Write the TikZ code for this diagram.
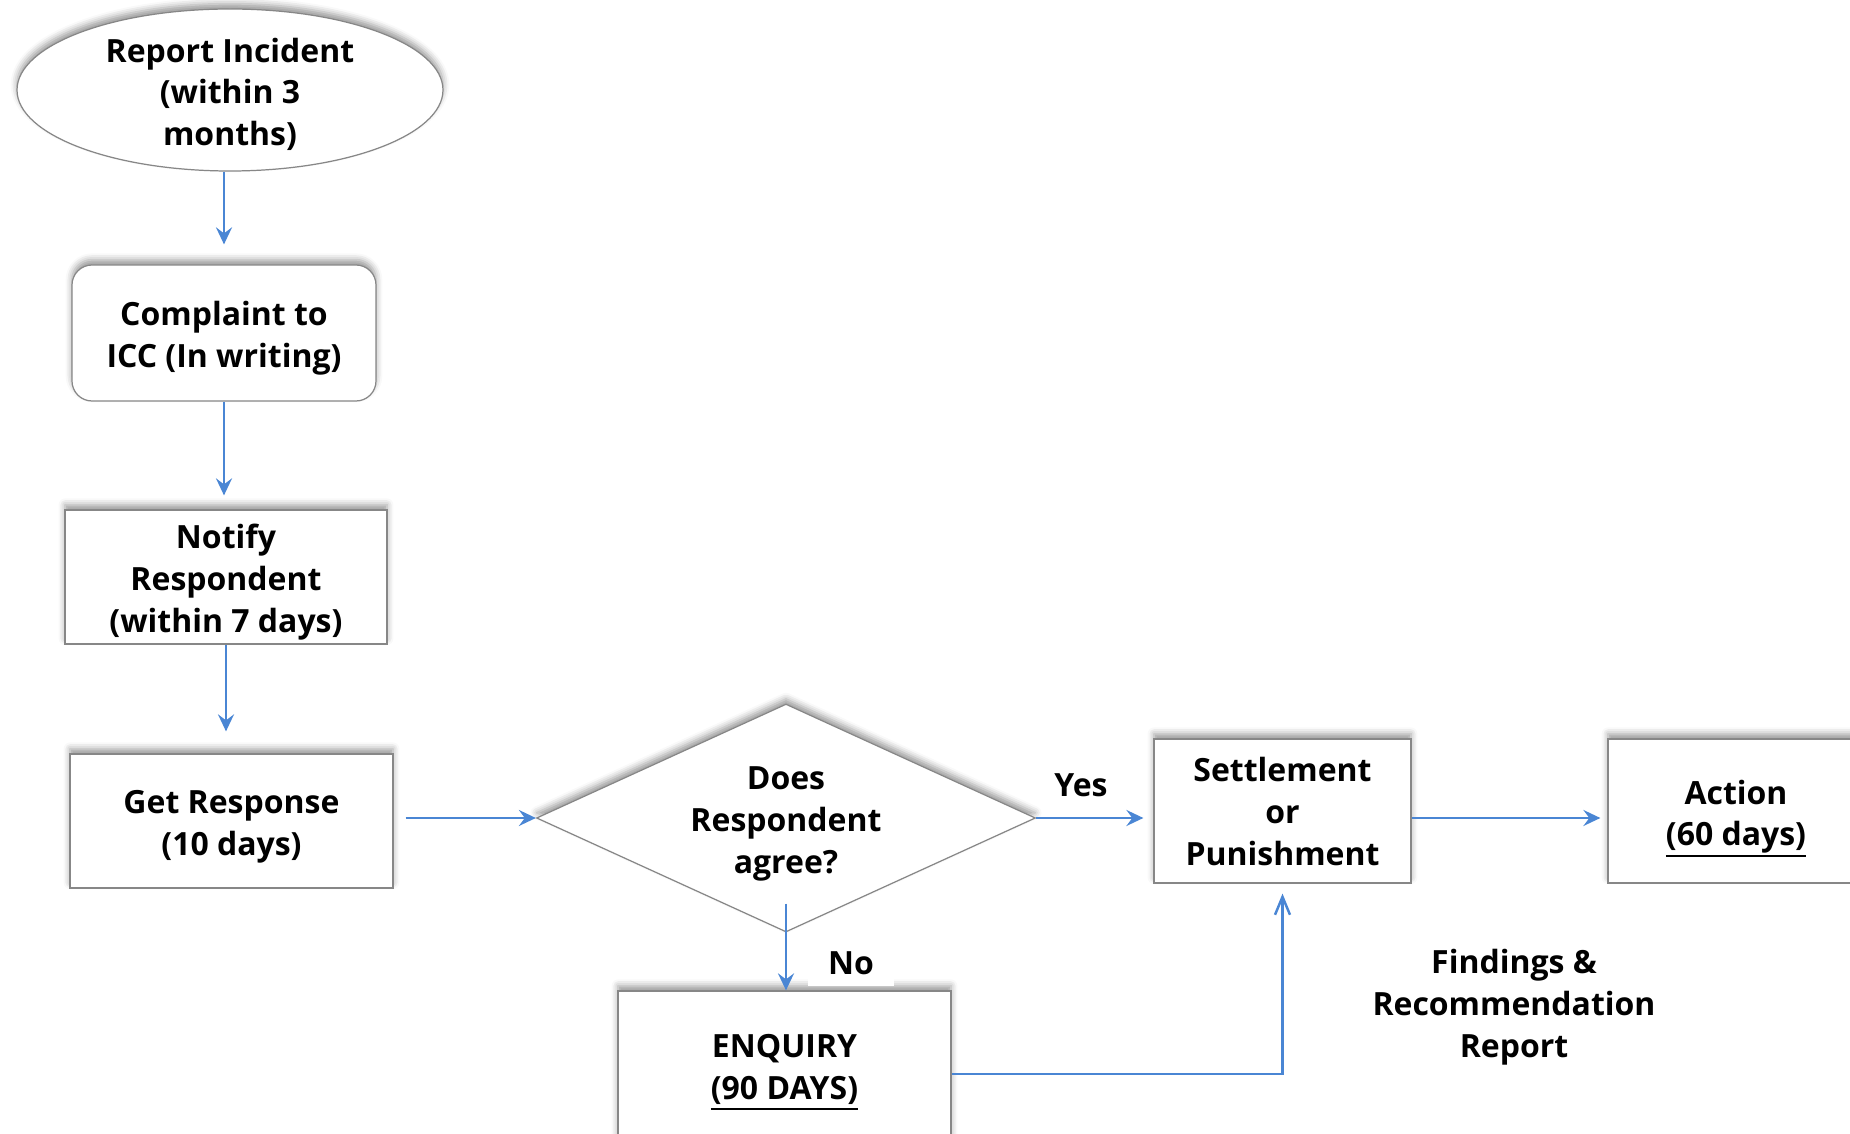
\documentclass[tikz,border=0pt]{standalone}
\usepackage{fontspec}
\setmainfont{Open Sans}
\usetikzlibrary{shapes.geometric,arrows.meta,shadows.blur}
\definecolor{flowblue}{RGB}{74,134,212}
\definecolor{edgegray}{RGB}{135,135,135}
\newcommand{\ml}[2][-1.4pt]{\raisebox{#1}[\height][\depth]{\begin{tabular}{@{}c@{}}#2\end{tabular}}}
\newcommand{\thickul}[1]{\setbox0\hbox{#1}\rlap{\rule[-3.1pt]{\wd0}{0.65pt}}\box0}
\begin{document}
\begin{tikzpicture}[x=0.1mm,y=-0.1mm,
  every node/.style={font=\fontsize{9.1pt}{11.9pt}\selectfont\bfseries, inner sep=0pt},
  softshadow/.style={blur shadow={shadow xshift=0pt,shadow yshift=1.5pt,shadow blur radius=1.8pt,shadow opacity=40}},
  boxst/.style={draw=edgegray, line width=0.35pt, fill=white, softshadow, rectangle},
  ellst/.style={boxst, ellipse, inner ysep=-2.5mm, minimum width=42.6mm, minimum height=16.2mm},
  diast/.style={boxst, diamond, shape aspect=2.19, minimum width=49.9mm, minimum height=22.8mm},
  arr/.style={draw=flowblue, line width=0.7pt, -{Stealth[length=1.7mm,width=1.6mm,inset=0.6mm]}},
  openarr/.style={draw=flowblue, line width=0.7pt, -{Straight Barb[length=1.8mm,width=1.5mm]}},
  lbl/.style={fill=white}
]
\useasboundingbox (0,0) rectangle (1850,1134);
\clip (0,0) rectangle (1850,1134);

\node[ellst] (rep) at (230,90) {\ml[-1.6pt]{Report Incident\\(within 3\\months)}};
\node[boxst, rounded corners=2mm, minimum width=30.4mm, minimum height=13.6mm] (cmp) at (224,333) {\ml{Complaint to\\ICC (In writing)}};
\node[boxst, minimum width=32.2mm, minimum height=13.4mm] (ntf) at (226,577) {\ml{Notify\\Respondent\\(within 7 days)}};
\node[boxst, minimum width=32.3mm, minimum height=13.4mm] (get) at (231.5,821) {\ml{Get Response\\(10 days)}};
\node[diast] (dia) at (786,818) {\ml{Does\\Respondent\\agree?}};
\node[boxst, minimum width=25.7mm, minimum height=14.4mm] (set) at (1282.5,811) {\ml[-1.1pt]{Settlement\\or\\Punishment}};
\node[boxst, minimum width=25.6mm, minimum height=14.4mm] (act) at (1736,811) {\ml[-1.6pt]{Action\\\thickul{(60 days)}}};
\node[boxst, minimum width=33.3mm, minimum height=16.6mm] (enq) at (784.5,1074) {\ml[1.2pt]{ENQUIRY\\\thickul{(90 DAYS)}}};
\node[lbl, minimum width=8.6mm, minimum height=4.7mm] (no) at (851,963) {No};
\node[lbl, minimum width=5mm, minimum height=4mm] (yes) at (1081,785) {Yes};
\node (fnd) at (1514,1002) {\ml{Findings \&\\Recommendation\\Report}};

\draw[arr, shorten >=2mm] (rep.south -| cmp.north) -- (cmp.north);
\draw[arr, shorten >=1.4mm] (cmp.south) -- (cmp.south |- ntf.north);
\draw[arr, shorten >=2.2mm] (ntf.south) -- (ntf.south |- get.north);
\draw[arr, shorten <=1.2mm] (get.east |- dia.west) -- (dia.west);
\draw[arr, shorten >=1mm] (dia.east) -- (dia.east -| set.west);
\draw[arr, shorten >=0.7mm] (set.east |- dia.east) -- (dia.east -| act.west);
\draw[arr, shorten <=-2.9mm] (dia.south) -- (enq.north -| dia.south);
\draw[openarr, shorten >=1mm] (enq.east) -| (set.south);
\end{tikzpicture}
\end{document}
